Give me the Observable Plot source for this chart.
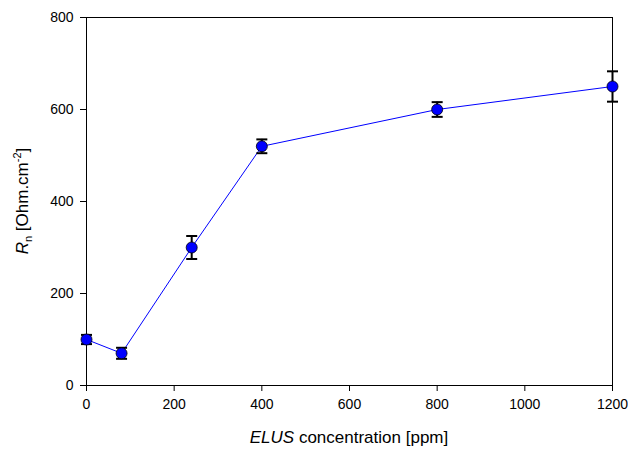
<!DOCTYPE html>
<html>
<head>
<meta charset="utf-8">
<script src="https://cdn.jsdelivr.net/npm/d3@7"></script>
<script src="https://cdn.jsdelivr.net/npm/@observablehq/plot@0.6"></script>
<style>
  html, body { margin: 0; padding: 0; background: #fff; }
</style>
</head>
<body>
<div id="chart"></div>
<script>
const concentration = [0, 80, 240, 400, 800, 1200];
const rn = [100, 70, 300, 520, 600, 650];
const rnErr = [10, 12, 25, 15, 16, 33];
const xTicks = [0, 200, 400, 600, 800, 1000, 1200];
const yTicks = [0, 200, 400, 600, 800];

const data = concentration.map((c, i) => ({c, r: rn[i], lo: rn[i] - rnErr[i], hi: rn[i] + rnErr[i]}));

const capSymbol = {
  draw(ctx) { ctx.moveTo(-5.5, 0); ctx.lineTo(5.5, 0); }
};

const svg = Plot.plot({
  width: 628,
  height: 449,
  marginLeft: 86,
  marginRight: 16,
  marginTop: 17,
  marginBottom: 64,
  style: {fontFamily: "'Liberation Sans', Arial, sans-serif", fontSize: "14px", color: "black", background: "white", overflow: "visible"},
  x: {domain: [0, 1200], ticks: xTicks, label: null},
  y: {domain: [0, 800], ticks: yTicks, label: null},
  marks: [
    Plot.axisX({ticks: xTicks, tickSize: 6, tickPadding: 8, label: null, fontSize: 14, tickFormat: d => String(d)}),
    Plot.axisY({ticks: yTicks, tickSize: 6, tickPadding: 7, label: null, fontSize: 14, tickFormat: d => String(d)}),
    Plot.frame({stroke: "black", strokeWidth: 1}),
    Plot.line(data, {x: "c", y: "r", stroke: "#0000ff", strokeWidth: 1}),
    Plot.ruleX(data, {x: "c", y1: "lo", y2: "hi", stroke: "black", strokeWidth: 2}),
    Plot.dot(data, {x: "c", y: "lo", symbol: capSymbol, r: 5, stroke: "black", strokeWidth: 2, fill: "none"}),
    Plot.dot(data, {x: "c", y: "hi", symbol: capSymbol, r: 5, stroke: "black", strokeWidth: 2, fill: "none"}),
    Plot.dot(data, {x: "c", y: "r", r: 5.5, fill: "#0000ff", stroke: "black", strokeWidth: 0.8})
  ]
});

const s = d3.select(svg);
// x axis label
const xl = s.append("text")
  .attr("x", (86 + 612) / 2).attr("y", 443)
  .attr("text-anchor", "middle").attr("font-size", 17).attr("fill", "black");
xl.append("tspan").attr("font-style", "italic").text("ELUS");
xl.append("tspan").text(" concentration [ppm]");

// y axis label
const yl = s.append("text")
  .attr("transform", "translate(28,201) rotate(-90)")
  .attr("text-anchor", "middle").attr("font-size", 17).attr("fill", "black");
yl.append("tspan").attr("font-style", "italic").text("R");
yl.append("tspan").attr("font-size", 11).attr("dy", 4).text("n");
yl.append("tspan").attr("dy", -4).text(" [Ohm.cm");
yl.append("tspan").attr("font-size", 11).attr("dy", -7).text("-2");
yl.append("tspan").attr("dy", 7).text("]");

document.getElementById("chart").appendChild(svg);
</script>
</body>
</html>
